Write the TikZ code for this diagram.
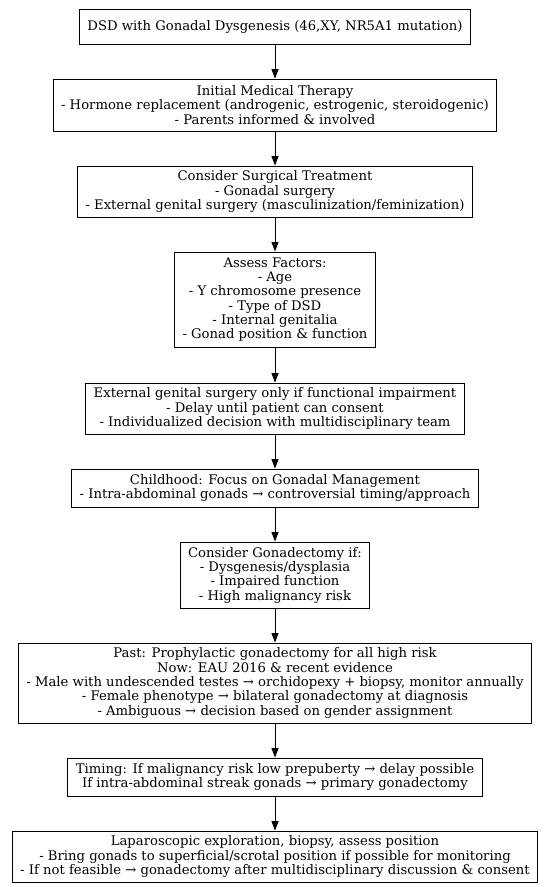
\documentclass[tikz,border=0pt]{standalone}
\usepackage{fontspec}
\setmainfont{DejaVu Serif}
\usetikzlibrary{arrows.meta}
\begin{document}
\begin{tikzpicture}[x=1pt,y=-1pt,
  box/.style={draw=black, line width=0.9pt, fill=white, align=center,
    font=\fontsize{13.2}{14.3}\selectfont, inner xsep=8pt, inner ysep=1pt,
    minimum height=#1},
  link/.style={draw=black, line width=0.9pt, -{Triangle[length=9.5pt,width=7pt]}}]
\useasboundingbox[fill=white] (0,0) rectangle (550,887);
\node[box=35pt] (b1) at (275,26.5) {DSD with Gonadal Dysgenesis (46,XY, NR5A1 mutation)};
\node[box=52pt] (b2) at (275,105) {Initial Medical Therapy\\- Hormone replacement (androgenic, estrogenic, steroidogenic)\\- Parents informed \& involved};
\node[box=51pt] (b3) at (275,191.5) {Consider Surgical Treatment\\- Gonadal surgery\\- External genital surgery (masculinization/feminization)};
\node[box=95pt] (b4) at (275,299.5) {Assess Factors:\\- Age\\- Y chromosome presence\\- Type of DSD\\- Internal genitalia\\- Gonad position \& function};
\node[box=51pt] (b5) at (275,408.5) {External genital surgery only if functional impairment\\- Delay until patient can consent\\- Individualized decision with multidisciplinary team};
\node[box=38pt] (b6) at (275,488) {Childhood: Focus on Gonadal Management\\- Intra-abdominal gonads → controversial timing/approach};
\node[box=66pt] (b7) at (275,575) {Consider Gonadectomy if:\\- Dysgenesis/dysplasia\\- Impaired function\\- High malignancy risk};
\node[box=80pt] (b8) at (275,683) {Past: Prophylactic gonadectomy for all high risk\\Now: EAU 2016 \& recent evidence\\- Male with undescended testes → orchidopexy + biopsy, monitor annually\\- Female phenotype → bilateral gonadectomy at diagnosis\\- Ambiguous → decision based on gender assignment};
\node[box=38pt] (b9) at (275,777) {Timing: If malignancy risk low prepuberty → delay possible\\If intra-abdominal streak gonads → primary gonadectomy};
\node[box=51pt] (b10) at (275,856.5) {Laparoscopic exploration, biopsy, assess position\\- Bring gonads to superficial/scrotal position if possible for monitoring\\- If not feasible → gonadectomy after multidisciplinary discussion \& consent};
\foreach \a/\b in {b1/b2,b2/b3,b3/b4,b4/b5,b5/b6,b6/b7,b7/b8,b8/b9,b9/b10}
  \draw[link] (\a) -- (\b);
\end{tikzpicture}
\end{document}
